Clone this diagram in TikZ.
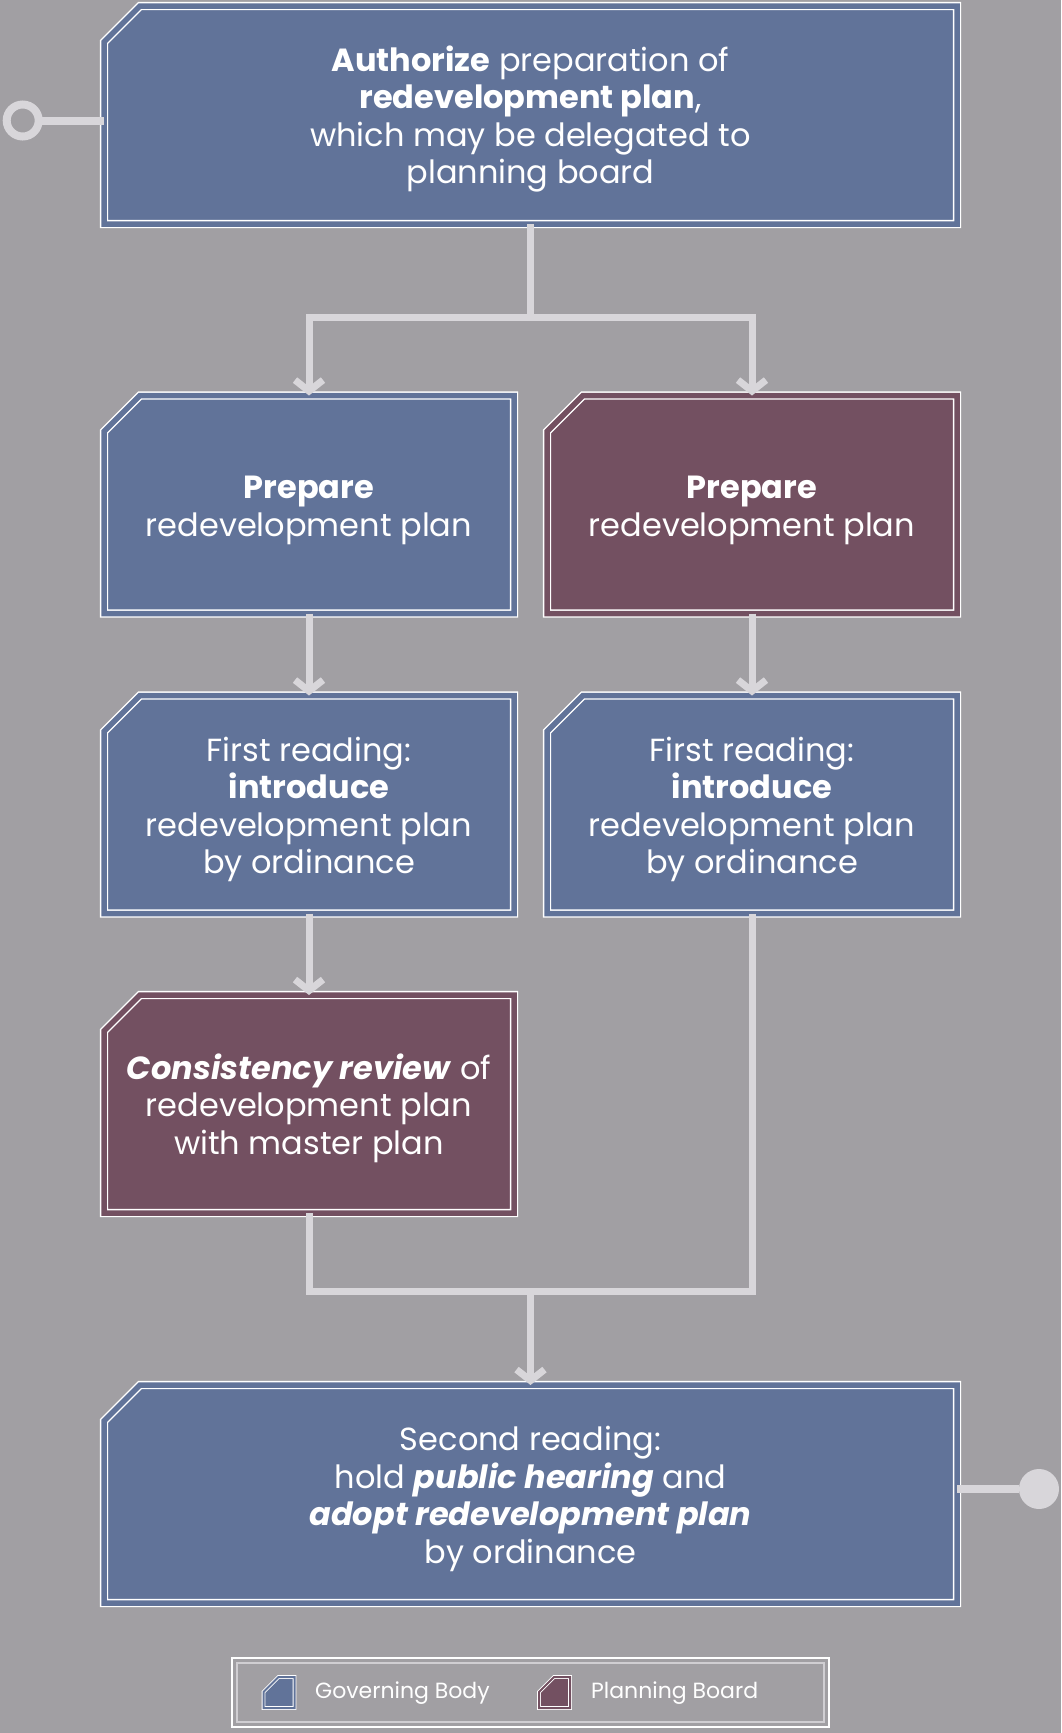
\documentclass[tikz,border=0pt]{standalone}
\usepackage{fontspec}
\setmainfont{Poppins}
\usetikzlibrary{shapes.misc,arrows.meta}
\definecolor{bg}{HTML}{A19FA3}
\definecolor{gov}{HTML}{617399}
\definecolor{plan}{HTML}{735061}
\definecolor{conn}{HTML}{D8D6DA}
\definecolor{leginner}{HTML}{D0CED2}
\newcommand{\tstrut}{\rule{0pt}{34pt}}
\begin{document}
\begin{tikzpicture}[x=1pt,y=-1pt,
  box/.style={chamfered rectangle, chamfered rectangle corners=north west,
    chamfered rectangle angle=45, chamfered rectangle xsep=18pt, chamfered rectangle ysep=18pt,
    draw=white, line width=1.4pt, double distance=5.5pt, inner sep=0pt, outer sep=0pt,
    text=white, align=center, font=\fontsize{32}{37.5}\selectfont},
  govbox/.style={box, fill=gov, double=gov},
  planbox/.style={box, fill=plan, double=plan},
  wide/.style={minimum width=853pt, minimum height=218pt},
  half/.style={minimum width=410pt, minimum height=218pt},
  link/.style={draw=conn, line width=7pt, line join=miter},
  arr/.style={link, -{Straight Barb[length=11pt, width=28pt]}},
  legicon/.style={draw=white, line width=0.9pt, double distance=2pt, line join=miter},
  legtext/.style={anchor=west, text=white, font=\fontsize{22}{26}\selectfont, inner sep=0pt}
]
\useasboundingbox (0,0) rectangle (1061,1733);
\fill[bg] (0,0) rectangle (1061,1733);

% boxes
\node[govbox, wide] (top) at (530.5,115) {\tstrut\textbf{Authorize} preparation of\\ \textbf{redevelopment plan},\\ which may be delegated to\\ planning board};
\node[govbox, half] (p1) at (309,504.5) {\tstrut\textbf{Prepare}\\ redevelopment plan};
\node[planbox, half] (p2) at (752,504.5) {\tstrut\textbf{Prepare}\\ redevelopment plan};
\node[govbox, half] (r1) at (309,804.5) {\tstrut First reading:\\ \textbf{introduce}\\ redevelopment plan\\ by ordinance};
\node[govbox, half] (r2) at (752,804.5) {\tstrut First reading:\\ \textbf{introduce}\\ redevelopment plan\\ by ordinance};
\node[planbox, half] (c1) at (309,1104) {\tstrut\textbf{\textit{Consistency review}} of\\ redevelopment plan\\ with master plan};
\node[govbox, wide] (bot) at (530.5,1494) {\tstrut Second reading:\\ hold \textbf{\textit{public hearing}} and\\ \textbf{\textit{adopt redevelopment plan}}\\ by ordinance};

% start / end markers
\node[circle, draw=conn, line width=8pt, minimum size=32pt, inner sep=0pt, outer sep=0pt] (start) at (22.7,120.5) {};
\draw[link, line width=8pt] (start.east) -- (start.east -| top.west);
\node[circle, fill=conn, minimum size=40pt, inner sep=0pt, outer sep=0pt] (finish) at (1039,1489) {};
\draw[link, line width=8pt] (finish -| bot.east) -- (finish.west);

% connectors
\coordinate (split) at (530.5,317);
\coordinate (merge) at (530.5,1291);
\draw[link] (top.south) -- (split);
\draw[arr] (split) -| (p1.north);
\draw[arr] (split) -| (p2.north);
\draw[arr] (p1.south) -- (r1.north);
\draw[arr] (p2.south) -- (r2.north);
\draw[arr] (r1.south) -- (c1.north);
\draw[link] (c1.south) |- (merge) -| (r2.south);
\draw[arr] (merge) -- (bot.north);

% legend
\node[draw=white, line width=1.3pt, minimum width=597pt, minimum height=69pt, inner sep=0pt] (leg) at (530.5,1692.5) {};
\node[draw=leginner, line width=1.3pt, minimum width=587pt, minimum height=59pt, inner sep=0pt] (leginner) at (530.5,1692.5) {};
\coordinate (lg1) at (279,1692.5);
\coordinate (lg2) at (554.5,1692.5);
\draw[legicon, fill=gov, double=gov, shift={(lg1)}] (-15.5,15.5) -- (-15.5,-0.5) -- (-0.5,-15.5) -- (15.5,-15.5) -- (15.5,15.5) -- cycle;
\draw[legicon, fill=plan, double=plan, shift={(lg2)}] (-15.5,15.5) -- (-15.5,-0.5) -- (-0.5,-15.5) -- (15.5,-15.5) -- (15.5,15.5) -- cycle;
\node[legtext] (lt1) at (315,1693) {Governing Body};
\node[legtext] (lt2) at (591,1693) {Planning Board};
\end{tikzpicture}
\end{document}
